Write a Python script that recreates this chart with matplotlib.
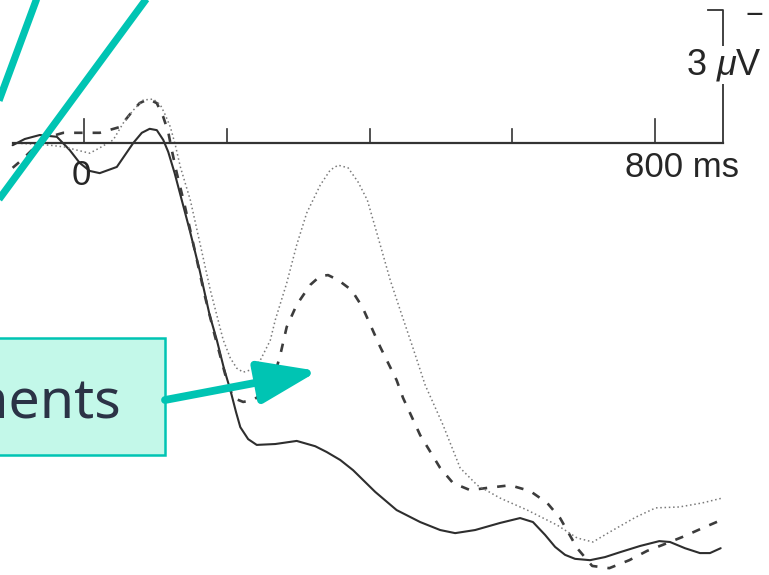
import matplotlib.pyplot as plt
from matplotlib.patches import Rectangle, FancyArrowPatch

plt.rcParams['font.family'] = ['Liberation Sans', 'DejaVu Sans']
plt.rcParams['mathtext.fontset'] = 'custom'
plt.rcParams['mathtext.rm'] = 'Liberation Sans'
plt.rcParams['mathtext.it'] = 'Liberation Sans:italic'

# ERP waveforms, time in ms, amplitude in microvolts (negative plotted up)
solid_ms = [-100, -83, -62, -38, -20, -6, 8, 22, 46, 69, 81, 92, 102, 111, 118, 127,
            137, 148, 162, 176, 186, 196, 205, 213, 219, 230, 242, 268, 298, 324, 340,
            359, 377, 408, 438, 471, 499, 520, 548, 583, 611, 629, 646, 660, 674, 688,
            709, 730, 751, 779, 806, 821, 842, 863, 877, 892]
solid_uv = [0.05, -0.09, -0.18, -0.14, 0.16, 0.45, 0.63, 0.68, 0.54, 0.0, -0.23, -0.32,
            -0.29, -0.07, 0.20, 0.68, 1.29, 1.96, 2.87, 3.88, 4.44, 5.08, 5.57, 6.07,
            6.41, 6.68, 6.81, 6.79, 6.72, 6.84, 6.97, 7.15, 7.38, 7.87, 8.28, 8.55,
            8.73, 8.80, 8.73, 8.57, 8.46, 8.55, 8.84, 9.11, 9.29, 9.38, 9.41, 9.34,
            9.23, 9.09, 8.98, 9.00, 9.14, 9.25, 9.25, 9.14]

dashed_ms = [-100, -87, -73, -55, -29, -6, 22, 50, 69, 78, 90, 102, 111, 118, 123, 130,
             141, 155, 169, 183, 198, 209, 223, 237, 251, 265, 275, 284, 298, 317, 331,
             342, 356, 375, 390, 415, 438, 447, 471, 499, 517, 541, 565, 597, 625, 649,
             667, 691, 712, 736, 764, 789, 810, 841, 866, 892]
dashed_uv = [0.56, 0.38, 0.16, -0.11, -0.23, -0.23, -0.23, -0.36, -0.74, -0.90, -0.99,
             -0.90, -0.59, -0.25, 0.16, 0.68, 1.40, 2.41, 3.43, 4.33, 5.23, 5.75, 5.84,
             5.80, 5.64, 5.35, 4.78, 4.15, 3.65, 3.20, 3.00, 2.98, 3.09, 3.32, 3.70,
             4.60, 5.35, 5.75, 6.59, 7.33, 7.67, 7.83, 7.78, 7.72, 7.85, 8.12, 8.46,
             9.14, 9.54, 9.59, 9.41, 9.20, 9.07, 8.87, 8.69, 8.51]

dotted_ms = [-100, -76, -48, -27, -10, 8, 22, 41, 55, 69, 83, 97, 107, 114, 121, 128,
             135, 149, 163, 177, 186, 195, 205, 214, 223, 233, 247, 261, 268, 284, 298,
             312, 331, 345, 356, 370, 384, 397, 411, 429, 443, 460, 478, 503, 527, 551,
             583, 621, 663, 691, 713, 736, 773, 801, 834, 866, 894]
dotted_uv = [0.0, 0.02, 0.05, 0.09, 0.16, 0.23, 0.11, -0.07, -0.45, -0.74, -0.97, -0.99,
             -0.86, -0.63, -0.36, 0.05, 0.54, 1.29, 2.30, 3.32, 3.88, 4.44, 4.85, 5.08,
             5.17, 5.12, 4.90, 4.45, 3.99, 3.16, 2.30, 1.58, 0.95, 0.61, 0.50, 0.56,
             0.88, 1.29, 2.07, 3.09, 3.77, 4.58, 5.46, 6.36, 7.33, 7.72, 8.01, 8.28,
             8.62, 8.91, 9.00, 8.78, 8.44, 8.23, 8.21, 8.12, 8.01]

tick_ms = [0, 200, 400, 600, 800]
calib_uv = 3

W, H = 769, 575
ms_px = 571 / 800      # pixels per millisecond
uv_px = 133 / 3        # pixels per microvolt
x0_px, y0_px = 84, 143

teal = '#00c4b3'
ink = '#333333'
label_ink = '#262626'

fig = plt.figure(figsize=(W / 100, H / 100), dpi=100)
ax = fig.add_axes([0, 0, 1, 1])
ax.set_xlim(-x0_px / ms_px, (W - x0_px) / ms_px)
ax.set_ylim((H - y0_px) / uv_px, -y0_px / uv_px)
ax.axis('off')

ax.plot(solid_ms, solid_uv, color='#2e2e2e', lw=1.5, solid_capstyle='round')
ax.plot(dashed_ms, dashed_uv, color='#3c3c3c', lw=1.9, linestyle=(0, (3.2, 3.8)))
ax.plot(dotted_ms, dotted_uv, color='#7a7a7a', lw=1.1, linestyle=(0, (1, 1.8)))

# time axis with ticks and calibration bar
ax.plot([-100, 895], [0, 0], color=ink, lw=1.6)
for t in tick_ms:
    tick_len = 0.55 if t in (0, 800) else 0.32
    ax.plot([t, t], [0, -tick_len], color=ink, lw=1.2)
ax.plot([874, 895, 895], [-calib_uv, -calib_uv, 0], color=ink, lw=1.3)

ax.text(838, 0.56, '800 ms', fontsize=25, color=label_ink, ha='center', va='center')
ax.text(-4, 0.74, '0', fontsize=25, color=label_ink, ha='center', va='center')
ax.text(844, -1.76, '3 $\\mu$V', fontsize=26, color=label_ink, ha='left', va='center',
        bbox=dict(facecolor='white', edgecolor='none', pad=0.5))
ax.text(939, -2.9, '$\\mathrm{-}$', fontsize=22, color=label_ink, ha='center', va='center')

# annotation layer in pixel units
ov = fig.add_axes([0, 0, 1, 1], zorder=5)
ov.set_xlim(0, W)
ov.set_ylim(H, 0)
ov.axis('off')
ov.patch.set_alpha(0)

ov.plot([37, -3], [-2, 106], color=teal, lw=5.2, solid_capstyle='butt')
ov.plot([147, -3], [-2, 202], color=teal, lw=5.2, solid_capstyle='butt')

ov.add_patch(Rectangle((-5, 338), 170, 117, facecolor='#c3f8e9', edgecolor=teal, lw=1.8))
ov.text(121, 418, 'Components', fontsize=40, family='Noto Sans', color='#2b3346',
        ha='right', va='baseline', clip_on=True)

arrow = FancyArrowPatch((165, 400), (318, 371), arrowstyle='-|>,head_length=36,head_width=13',
                        mutation_scale=1, color=teal, lw=5.6, shrinkA=0, shrinkB=0)
ov.add_patch(arrow)

fig.savefig('out.png', dpi=100)
